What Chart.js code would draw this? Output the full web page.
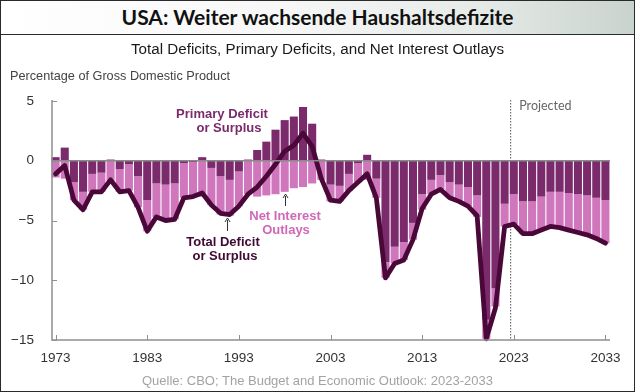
<!DOCTYPE html>
<html><head><meta charset="utf-8">
<script src="https://cdn.jsdelivr.net/npm/chart.js@4/dist/chart.umd.min.js"></script>
<style>
body{margin:0;width:635px;height:392px;overflow:hidden;position:relative;background:#fff;}
#c{position:absolute;left:0;top:0;}
.t{position:absolute;white-space:nowrap;}
#frame{position:absolute;left:0;top:0;width:635px;height:392px;box-sizing:border-box;border:1px solid #2a2a2a;pointer-events:none;}
#titlebar{position:absolute;left:0;top:0;width:635px;height:35px;box-sizing:border-box;border-bottom:1px solid #2a2a2a;
 background:linear-gradient(to right,#ffffff 0%,#f6f7f6 45%,#e6ebe8 75%,#c9d3ce 100%);
 font:bold 21px Lato,'Open Sans',sans-serif;color:#111;text-align:center;line-height:34px;}
#sub{left:0;width:635px;top:40px;text-align:center;font:15.2px 'Liberation Sans',Arial,sans-serif;color:#1a1a1a;}
#unit{left:10px;top:69px;font:12.7px 'Liberation Sans',Arial,sans-serif;color:#444;}
#src{left:0;width:635px;top:373px;text-align:center;font:13px 'Liberation Sans',Arial,sans-serif;color:#a3a3a3;}
</style></head><body>
<canvas id="c" width="635" height="392"></canvas>
<div id="titlebar">USA: Weiter wachsende Haushaltsdefizite</div>
<div class="t" id="sub">Total Deficits, Primary Deficits, and Net Interest Outlays</div>
<div class="t" id="unit">Percentage of Gross Domestic Product</div>
<div class="t" id="src">Quelle: CBO; The Budget and Economic Outlook: 2023-2033</div>
<div id="frame"></div>
<script>
const years = [];
for (let y = 1973; y <= 2033; y++) years.push(String(y));

const primaryDeficit = [
 0.3, 1.1, -1.8, -2.6, -1.1, -1.0, 0.1, -0.7, -0.3, -1.3,
 -3.3, -1.9, -2.0, -1.9, -0.2, -0.1, 0.3, -0.6, -1.3, -1.6,
 -0.9, 0.1, 0.9, 1.6, 2.6, 3.4, 3.7, 4.5, 3.1, 0.1,
 -2.0, -2.1, -1.1, -0.2, 0.5, -1.5, -8.5, -7.2, -6.8, -5.2,
 -2.8, -1.6, -1.2, -1.8, -2.0, -2.2, -2.9, -13.3, -10.7, -3.6,
 -2.8, -3.4, -3.4, -3.0, -2.6, -2.6, -2.7, -2.8, -2.9, -3.1, -3.3];

const netInterest = [
 -1.4, -1.5, -1.5, -1.5, -1.5, -1.6, -1.7, -1.9, -2.2, -2.6,
 -2.6, -2.8, -3.0, -3.0, -2.9, -2.9, -3.0, -3.1, -3.2, -3.0,
 -2.9, -2.8, -3.0, -2.9, -2.8, -2.6, -2.3, -2.2, -1.9, -1.6,
 -1.4, -1.3, -1.4, -1.6, -1.6, -1.6, -1.3, -1.4, -1.5, -1.4,
 -1.3, -1.2, -1.2, -1.3, -1.4, -1.6, -1.8, -1.6, -1.5, -1.9,
 -2.5, -2.7, -2.7, -2.8, -2.9, -3.0, -3.1, -3.2, -3.3, -3.4, -3.6];

const totalDeficit = [
 -1.1, -0.4, -3.3, -4.1, -2.6, -2.6, -1.6, -2.6, -2.5, -3.9,
 -5.9, -4.7, -5.0, -4.9, -3.1, -3.0, -2.7, -3.7, -4.4, -4.5,
 -3.8, -2.8, -2.2, -1.3, -0.3, 0.8, 1.3, 2.3, 1.2, -1.5,
 -3.3, -3.4, -2.5, -1.8, -1.1, -3.1, -9.8, -8.6, -8.3, -6.6,
 -4.0, -2.8, -2.4, -3.1, -3.4, -3.8, -4.6, -14.9, -12.3, -5.5,
 -5.3, -6.1, -6.1, -5.8, -5.5, -5.6, -5.8, -6.0, -6.2, -6.5, -6.9];

const yTicks = [5, 0, -5, -10, -15];
const xTickYears = ['1973','1983','1993','2003','2013','2023','2033'];
const projectedStart = '2023';

const TICKFONT = "'Liberation Sans',Arial,sans-serif";
const DARK = '#7b2a6c', PINK = '#d076bd', LINE = '#4a0838', AXIS = '#8f8f8f';

const decor = {
  id: 'decor',
  beforeDatasetsDraw(chart) {
    const {ctx, chartArea: a, scales: {x, y}} = chart;
    ctx.save();
    const i = years.indexOf(projectedStart);
    const px = (x.getPixelForValue(i - 1) + x.getPixelForValue(i)) / 2 + 1;
    ctx.strokeStyle = '#555'; ctx.lineWidth = 1; ctx.setLineDash([1.5, 1.5]);
    ctx.beginPath(); ctx.moveTo(px + 0.5, a.top - 1); ctx.lineTo(px + 0.5, a.bottom); ctx.stroke();
    ctx.setLineDash([]);
    ctx.fillStyle = '#666'; ctx.font = "12.5px Lato,'Open Sans',sans-serif";
    ctx.textBaseline = 'middle'; ctx.textAlign = 'left';
    ctx.fillText('Projected', px + 9, a.top + 5);
    ctx.restore();
  },
  afterDatasetsDraw(chart) {
    const {ctx, chartArea: a, scales: {x, y}} = chart;
    ctx.save();
    const y0 = y.getPixelForValue(0);
    ctx.strokeStyle = '#8a8a8a'; ctx.lineWidth = 1.5;
    ctx.beginPath(); ctx.moveTo(a.left, y0); ctx.lineTo(a.right, y0); ctx.stroke();
    ctx.strokeStyle = AXIS; ctx.lineWidth = 1.5;
    ctx.beginPath(); ctx.moveTo(a.left + 1, a.top - 1); ctx.lineTo(a.left + 1, a.bottom); ctx.lineTo(a.right, a.bottom); ctx.stroke();
    ctx.lineWidth = 1;
    yTicks.forEach(v => { const py = Math.round(y.getPixelForValue(v)) + 0.5;
      ctx.beginPath(); ctx.moveTo(a.left + 1, py); ctx.lineTo(a.left + 6, py); ctx.stroke(); });
    xTickYears.forEach(yr => { const pxx = Math.round(x.getPixelForValue(years.indexOf(yr))) + 0.5;
      ctx.beginPath(); ctx.moveTo(pxx, a.bottom); ctx.lineTo(pxx, a.bottom - 5); ctx.stroke(); });
    const F = "bold 13px 'Liberation Sans','Arial',sans-serif";
    ctx.font = F; ctx.textAlign = 'center'; ctx.textBaseline = 'middle';
    ctx.fillStyle = '#7b2a6c';
    ctx.fillText('Primary Deficit', 222, 114);
    ctx.fillText('or Surplus', 229, 128);
    ctx.fillStyle = '#d068b8';
    ctx.fillText('Net Interest', 285, 216);
    ctx.fillText('Outlays', 286, 230);
    ctx.fillStyle = '#3f0a33';
    ctx.fillText('Total Deficit', 223, 242);
    ctx.fillText('or Surplus', 225, 256);
    ctx.strokeStyle = '#333'; ctx.lineWidth = 1;
    const arrow = (ax, y1, y2) => {
      ctx.beginPath(); ctx.moveTo(ax, y1); ctx.lineTo(ax, y2 + 2); ctx.stroke();
      ctx.beginPath(); ctx.moveTo(ax - 2.5, y2 + 4); ctx.lineTo(ax, y2); ctx.lineTo(ax + 2.5, y2 + 4); ctx.stroke();
    };
    arrow(227.5, 231, 218);
    arrow(285.5, 206, 194);
    ctx.restore();
  }
};

new Chart(document.getElementById('c'), {
  data: {
    labels: years,
    datasets: [
      {type: 'line', label: 'Total Deficit or Surplus', data: totalDeficit, stack: 'line',
       borderColor: LINE, borderWidth: 4.8, pointRadius: 0, tension: 0,
       borderJoinStyle: 'round', borderCapStyle: 'round', order: 0, clip: false},
      {type: 'bar', label: 'Primary Deficit or Surplus', data: primaryDeficit, stack: 'bars',
       backgroundColor: DARK, borderWidth: 0, barPercentage: 0.88, categoryPercentage: 1, order: 1},
      {type: 'bar', label: 'Net Interest Outlays', data: netInterest, stack: 'bars',
       backgroundColor: PINK, borderWidth: 0, barPercentage: 0.88, categoryPercentage: 1, order: 2}
    ]
  },
  options: {
    responsive: false, animation: false, devicePixelRatio: 1,
    layout: {padding: {left: 0, right: 25, top: 101, bottom: 22}},
    plugins: {legend: {display: false}, tooltip: {enabled: false}},
    scales: {
      x: {stacked: true, offset: true,
          grid: {display: false, drawTicks: false}, border: {display: false},
          ticks: {autoSkip: false, maxRotation: 0, padding: 10, color: '#333',
                  font: {family: TICKFONT, size: 13.5},
                  callback: (v, i) => xTickYears.includes(years[i]) ? years[i] : ''},
          afterFit: s => { s.height = 30; }},
      y: {stacked: true, min: -15, max: 5,
          grid: {display: false, drawTicks: false}, border: {display: false},
          afterBuildTicks: s => { s.ticks = yTicks.map(v => ({value: v})); },
          ticks: {padding: 17, color: '#333', font: {family: TICKFONT, size: 13.5},
                  callback: v => v < 0 ? '\u2212' + Math.abs(v) : String(v)},
          afterFit: s => { s.width = 51; }}
    }
  },
  plugins: [decor]
});
</script>
</body></html>
